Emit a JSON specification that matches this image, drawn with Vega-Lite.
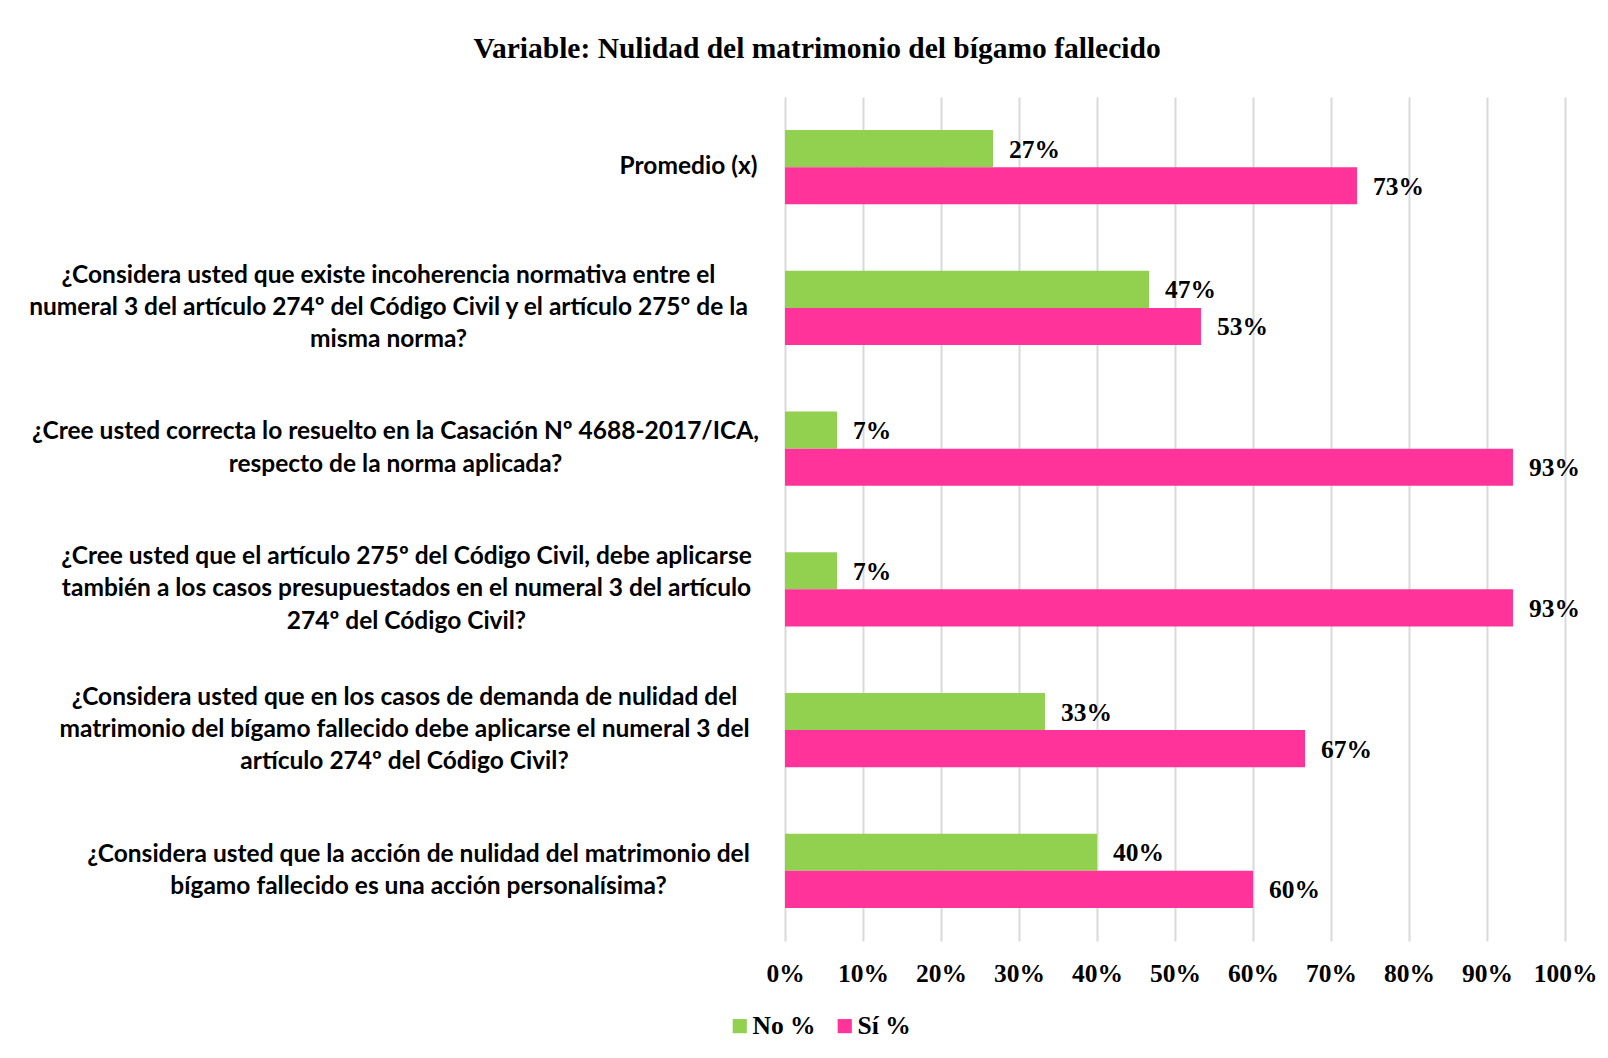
{
  "$schema": "https://vega.github.io/schema/vega-lite/v6.json",
  "autosize": {"type": "none"},
  "width": 780,
  "height": 844,
  "padding": {"left": 785, "top": 97, "right": 43, "bottom": 117},
  "background": "white",
  "title": {
    "text": "Variable: Nulidad del matrimonio del bígamo fallecido",
    "font": "Liberation Serif",
    "fontSize": 29.5,
    "fontWeight": "bold",
    "color": "#000000",
    "anchor": "middle",
    "dx": -358,
    "offset": 33
  },
  "data": {
    "values": [
      {"pregunta": "Promedio (x)", "serie": "No %", "valor": 0.2667},
      {"pregunta": "Promedio (x)", "serie": "Sí %", "valor": 0.7333},
      {"pregunta": "¿Considera usted que existe incoherencia normativa entre el\nnumeral 3 del artículo 274º del Código Civil y el artículo 275º de la\nmisma norma?", "serie": "No %", "valor": 0.4667},
      {"pregunta": "¿Considera usted que existe incoherencia normativa entre el\nnumeral 3 del artículo 274º del Código Civil y el artículo 275º de la\nmisma norma?", "serie": "Sí %", "valor": 0.5333},
      {"pregunta": "¿Cree usted correcta lo resuelto en la Casación Nº 4688-2017/ICA,\nrespecto de la norma aplicada?", "serie": "No %", "valor": 0.0667},
      {"pregunta": "¿Cree usted correcta lo resuelto en la Casación Nº 4688-2017/ICA,\nrespecto de la norma aplicada?", "serie": "Sí %", "valor": 0.9333},
      {"pregunta": "¿Cree usted que el artículo 275º del Código Civil, debe aplicarse\ntambién a los casos presupuestados en el numeral 3 del artículo\n274º del Código Civil?", "serie": "No %", "valor": 0.0667},
      {"pregunta": "¿Cree usted que el artículo 275º del Código Civil, debe aplicarse\ntambién a los casos presupuestados en el numeral 3 del artículo\n274º del Código Civil?", "serie": "Sí %", "valor": 0.9333},
      {"pregunta": "¿Considera usted que en los casos de demanda de nulidad del\nmatrimonio del bígamo fallecido debe aplicarse el numeral 3 del\nartículo 274º del Código Civil?", "serie": "No %", "valor": 0.3333},
      {"pregunta": "¿Considera usted que en los casos de demanda de nulidad del\nmatrimonio del bígamo fallecido debe aplicarse el numeral 3 del\nartículo 274º del Código Civil?", "serie": "Sí %", "valor": 0.6667},
      {"pregunta": "¿Considera usted que la acción de nulidad del matrimonio del\nbígamo fallecido es una acción personalísima?", "serie": "No %", "valor": 0.40},
      {"pregunta": "¿Considera usted que la acción de nulidad del matrimonio del\nbígamo fallecido es una acción personalísima?", "serie": "Sí %", "valor": 0.60}
    ]
  },
  "encoding": {
    "y": {
      "field": "pregunta",
      "type": "nominal",
      "sort": null,
      "scale": {"paddingInner": 0.473, "paddingOuter": 0.235},
      "axis": {
        "title": null,
        "domain": false,
        "ticks": false,
        "grid": false,
        "labelExpr": "split(datum.label, '\\n')",
        "labelFont": "Lato",
        "labelFontWeight": "bold",
        "labelFontSize": 24.5,
        "labelColor": "#000000",
        "labelLineHeight": 32.3,
        "labelAlign": "center",
        "labelBaseline": "middle",
        "labelLimit": 0,
        "labelOffset": {"expr": "-(length(split(datum.value, '\\n')) - 1) * 16.15"},
        "labelPadding": {"expr": "indexof(datum.value, 'Promedio') >= 0 ? 97 : indexof(datum.value, 'incoherencia') >= 0 ? 397 : indexof(datum.value, 'Casación') >= 0 ? 390 : indexof(datum.value, 'presupuestados') >= 0 ? 379 : indexof(datum.value, 'demanda') >= 0 ? 381 : 367"}
      }
    },
    "yOffset": {
      "field": "serie",
      "type": "nominal",
      "sort": ["No %", "Sí %"],
      "scale": {"paddingInner": 0, "paddingOuter": 0}
    },
    "x": {
      "field": "valor",
      "type": "quantitative",
      "scale": {"domain": [0, 1], "nice": false},
      "axis": {
        "title": null,
        "format": ".0%",
        "values": [0, 0.1, 0.2, 0.3, 0.4, 0.5, 0.6, 0.7, 0.8, 0.9, 1],
        "domain": false,
        "ticks": false,
        "grid": true,
        "gridColor": "#d9d9d9",
        "gridWidth": 2,
        "labelFont": "Liberation Serif",
        "labelFontWeight": "bold",
        "labelFontSize": 25.5,
        "labelColor": "#000000",
        "labelPadding": 20,
        "labelFlush": false
      }
    }
  },
  "layer": [
    {
      "mark": {"type": "bar"},
      "encoding": {
        "color": {
          "field": "serie",
          "type": "nominal",
          "sort": ["No %", "Sí %"],
          "scale": {"domain": ["No %", "Sí %"], "range": ["#92d050", "#ff3399"]},
          "legend": {
            "title": null,
            "orient": "none",
            "direction": "horizontal",
            "legendX": -58,
            "legendY": 916,
            "symbolType": "square",
            "symbolSize": 200,
            "symbolStrokeWidth": 0,
            "labelFont": "Liberation Serif",
            "labelFontWeight": "bold",
            "labelFontSize": 25.5,
            "labelColor": "#000000",
            "labelOffset": 0,
            "columnPadding": 16
          }
        }
      }
    },
    {
      "mark": {
        "type": "text",
        "align": "left",
        "baseline": "middle",
        "dx": 16,
        "dy": 1,
        "font": "Liberation Serif",
        "fontWeight": "bold",
        "fontSize": 25.5,
        "color": "#000000"
      },
      "encoding": {
        "text": {"field": "valor", "type": "quantitative", "format": ".0%"}
      }
    }
  ],
  "config": {
    "view": {"stroke": null}
  }
}
